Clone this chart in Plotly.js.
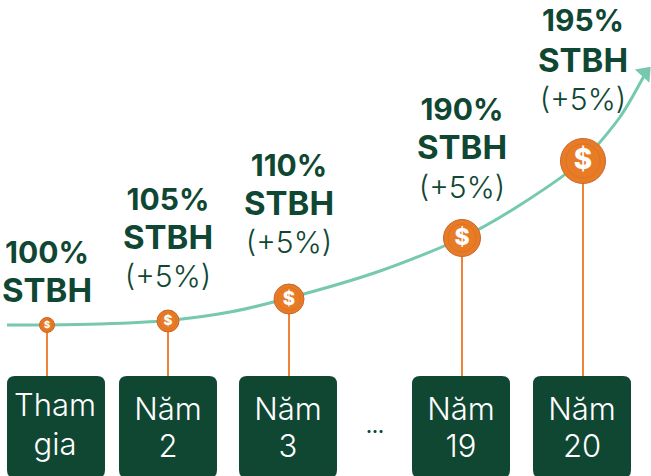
<!DOCTYPE html>
<html><head><meta charset="utf-8">
<script src="https://cdn.plot.ly/plotly-3.0.1.min.js"></script>
<style>html,body{margin:0;padding:0;background:#fff;overflow:hidden}#c{width:651px;height:476px}</style>
</head><body><div id="c"></div>
<script>
const curveX=[7,47,100,168,230,289,380,462,520,583,620,645];
const curveY=[325,325,324,320.5,312,298,271,238,205,160,117,74];
const coinX=[47,168,289,462,583];
const coinY=[325,321,299,238,161];
const coinSize=[15,22,30,37,45];
const stemBottom=376;
const boxLeft=[7,119,239,412,533];
const boxRight=[105,217,337,510,631];
const boxTop=376, boxBottom=478, boxRadius=8;
const pctLabels=['100%','105%','110%','190%','195%'];
const pctY=[255,202,168,112,23];
const stbhY=[294,241,207,151,64];
const plusX=[168,289,462,583];
const plusY=[279,245,190,102];
const line1=['Tham','Năm','Năm','Năm','Năm'];
const line1Y=[408,412,412,412,412];
const line2=['gia','2','3','19','20'];
const line2Y=[447,449,449,449,449];
const boxCenter=[55,168,288,461,582];
const dark='#104733', green='#76C9AE', orange='#E87B26';
const fontFam='Inter, "Noto Sans", sans-serif';

const traces=[];
traces.push({x:curveX,y:curveY,mode:'lines',line:{color:green,width:3,shape:'spline',smoothing:0.8},hoverinfo:'skip'});
traces.push({x:[645],y:[73],mode:'markers',marker:{symbol:'triangle-up',size:17,angle:42,color:green,opacity:1},hoverinfo:'skip'});
coinX.forEach((x,i)=>traces.push({x:[x,x],y:[coinY[i],stemBottom],mode:'lines',line:{color:'#EE8438',width:2},hoverinfo:'skip'}));
traces.push({x:coinX,y:coinY,mode:'markers',marker:{size:coinSize,color:orange,opacity:1,line:{color:'#C9652A',width:1}},hoverinfo:'skip'});
traces.push({x:coinX,y:coinY,mode:'markers',marker:{size:coinSize.map(s=>s*0.76),color:'rgba(0,0,0,0)',opacity:1,line:{color:'#D9701F',width:0.8}},hoverinfo:'skip'});
coinX.forEach((x,i)=>traces.push({x:[x],y:[coinY[i]+1],mode:'text',text:['$'],textposition:'middle center',
  textfont:{family:fontFam,size:coinSize[i]*0.62,color:'#fff',weight:800},hoverinfo:'skip'}));
traces.push({x:coinX,y:pctY,mode:'text',text:pctLabels,textposition:'middle center',textfont:{family:fontFam,size:30,color:dark,weight:700},hoverinfo:'skip'});
traces.push({x:coinX,y:stbhY,mode:'text',text:coinX.map(()=>'STBH'),textposition:'middle center',textfont:{family:fontFam,size:33,color:dark,weight:700},hoverinfo:'skip'});
traces.push({x:plusX,y:plusY,mode:'text',text:plusX.map(()=>'(+5%)'),textposition:'middle center',textfont:{family:fontFam,size:30,color:dark,weight:300},hoverinfo:'skip'});
traces.push({x:boxCenter,y:line1Y,mode:'text',text:line1,textposition:'middle center',textfont:{family:fontFam,size:31,color:'#fff',weight:300},hoverinfo:'skip'});
traces.push({x:boxCenter,y:line2Y,mode:'text',text:line2,textposition:'middle center',textfont:{family:fontFam,size:31,color:'#fff',weight:300},hoverinfo:'skip'});
traces.push({x:[375],y:[428],mode:'text',text:['...'],textposition:'middle center',textfont:{family:fontFam,size:18,color:dark,weight:700},hoverinfo:'skip'});

const shapes=boxLeft.map((l,i)=>{const r=boxRight[i],t=boxTop,b=boxBottom,q=boxRadius;
  return {type:'path',layer:'below',xref:'x',yref:'y',fillcolor:dark,line:{width:0},
    path:`M${l+q},${t} L${r-q},${t} Q${r},${t} ${r},${t+q} L${r},${b-q} Q${r},${b} ${r-q},${b} L${l+q},${b} Q${l},${b} ${l},${b-q} L${l},${t+q} Q${l},${t} ${l+q},${t} Z`};});

Plotly.newPlot('c',traces,{width:651,height:476,margin:{l:0,r:0,t:0,b:0},showlegend:false,
  paper_bgcolor:'#fff',plot_bgcolor:'#fff',
  xaxis:{range:[0,651],visible:false,fixedrange:true},
  yaxis:{range:[476,0],visible:false,fixedrange:true},shapes},{displayModeBar:false,staticPlot:true});
</script></body></html>
